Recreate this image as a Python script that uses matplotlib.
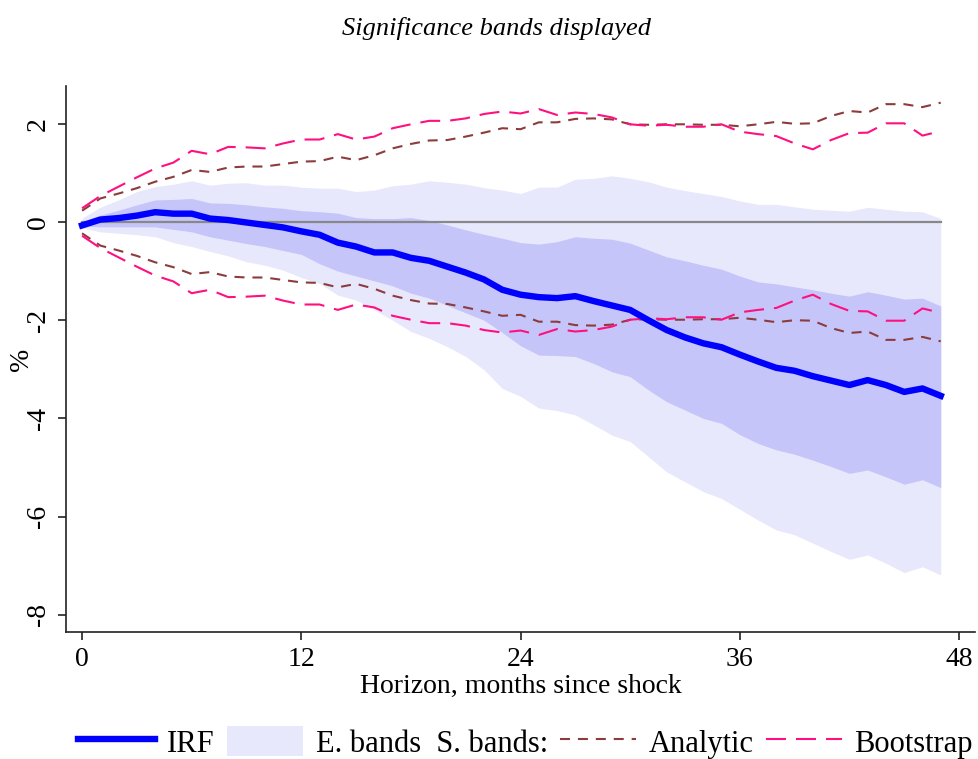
import numpy as np
import matplotlib.pyplot as plt
from matplotlib.lines import Line2D
from matplotlib.patches import Patch

# horizon, months since shock
horizon = list(range(48))

# impulse response (%)
irf = [-0.07, 0.05, 0.08, 0.13, 0.20, 0.17, 0.17, 0.07, 0.04, -0.01,
       -0.06, -0.11, -0.19, -0.26, -0.42, -0.50, -0.62, -0.62, -0.73, -0.79,
       -0.91, -1.03, -1.17, -1.38, -1.48, -1.53, -1.55, -1.51, -1.61, -1.70,
       -1.79, -2.00, -2.20, -2.35, -2.47, -2.55, -2.70, -2.84, -2.97, -3.03,
       -3.14, -3.23, -3.32, -3.22, -3.32, -3.46, -3.39, -3.54]

# error bands: outer (light) and inner (darker)
outer_hi = [0.08, 0.30, 0.45, 0.62, 0.72, 0.77, 0.84, 0.75, 0.79, 0.80,
            0.75, 0.75, 0.71, 0.69, 0.69, 0.62, 0.65, 0.74, 0.77, 0.84,
            0.81, 0.77, 0.70, 0.65, 0.58, 0.71, 0.71, 0.87, 0.89, 0.94,
            0.89, 0.82, 0.71, 0.64, 0.58, 0.52, 0.43, 0.36, 0.36, 0.31,
            0.26, 0.24, 0.22, 0.30, 0.26, 0.22, 0.21, 0.07]
outer_lo = [-0.12, -0.20, -0.23, -0.26, -0.30, -0.42, -0.50, -0.60, -0.69, -0.81,
            -0.88, -0.98, -1.13, -1.25, -1.49, -1.59, -1.79, -2.00, -2.23, -2.37,
            -2.54, -2.74, -3.01, -3.39, -3.55, -3.79, -3.84, -3.93, -4.13, -4.34,
            -4.47, -4.78, -5.09, -5.29, -5.49, -5.63, -5.85, -6.07, -6.27, -6.37,
            -6.54, -6.71, -6.87, -6.78, -6.95, -7.14, -7.02, -7.19]
inner_hi = [0.01, 0.14, 0.24, 0.35, 0.45, 0.46, 0.48, 0.39, 0.38, 0.35,
            0.31, 0.28, 0.23, 0.21, 0.18, 0.09, 0.07, 0.07, 0.09, 0.03,
            -0.06, -0.16, -0.25, -0.33, -0.42, -0.45, -0.40, -0.30, -0.33, -0.35,
            -0.43, -0.57, -0.71, -0.79, -0.88, -0.96, -1.10, -1.22, -1.26, -1.32,
            -1.38, -1.45, -1.51, -1.42, -1.49, -1.57, -1.55, -1.71]
inner_lo = [-0.08, -0.10, -0.10, -0.10, -0.10, -0.15, -0.20, -0.30, -0.37, -0.44,
            -0.50, -0.58, -0.66, -0.85, -1.00, -1.10, -1.20, -1.30, -1.45, -1.55,
            -1.70, -1.85, -2.00, -2.25, -2.52, -2.71, -2.72, -2.74, -2.88, -3.05,
            -3.15, -3.42, -3.66, -3.83, -4.00, -4.10, -4.33, -4.51, -4.64, -4.73,
            -4.85, -4.98, -5.12, -5.05, -5.19, -5.34, -5.25, -5.41]

# significance bands
analytic_hi = [0.23, 0.48, 0.58, 0.69, 0.82, 0.92, 1.06, 1.02, 1.11, 1.13,
               1.13, 1.18, 1.23, 1.24, 1.33, 1.26, 1.36, 1.50, 1.59, 1.66,
               1.67, 1.74, 1.82, 1.91, 1.89, 2.03, 2.03, 2.10, 2.11, 2.09,
               1.99, 1.98, 1.99, 1.99, 1.98, 1.98, 1.95, 1.99, 2.04, 2.00,
               2.01, 2.16, 2.26, 2.23, 2.40, 2.40, 2.34, 2.43]
analytic_lo = [-0.23, -0.48, -0.58, -0.69, -0.82, -0.92, -1.06, -1.02, -1.11, -1.13,
               -1.13, -1.18, -1.23, -1.24, -1.33, -1.26, -1.36, -1.50, -1.59, -1.66,
               -1.67, -1.74, -1.82, -1.91, -1.89, -2.03, -2.03, -2.10, -2.11, -2.09,
               -1.99, -1.98, -1.99, -1.99, -1.98, -1.98, -1.95, -1.99, -2.04, -2.00,
               -2.01, -2.16, -2.26, -2.23, -2.40, -2.40, -2.34, -2.43]
boot_hi = [0.28, 0.53, 0.72, 0.91, 1.09, 1.21, 1.45, 1.38, 1.53, 1.52,
           1.50, 1.60, 1.68, 1.68, 1.79, 1.68, 1.74, 1.91, 1.99, 2.06,
           2.06, 2.11, 2.20, 2.25, 2.21, 2.30, 2.18, 2.23, 2.20, 2.13,
           1.99, 1.96, 1.98, 1.94, 1.94, 1.99, 1.84, 1.79, 1.75, 1.60,
           1.48, 1.67, 1.81, 1.82, 2.01, 2.01, 1.76, 1.85]
boot_lo = [-0.28, -0.53, -0.72, -0.91, -1.09, -1.21, -1.45, -1.38, -1.53, -1.52,
           -1.50, -1.60, -1.68, -1.68, -1.79, -1.68, -1.74, -1.91, -1.99, -2.06,
           -2.06, -2.11, -2.20, -2.25, -2.21, -2.30, -2.18, -2.23, -2.20, -2.13,
           -1.99, -1.96, -1.98, -1.94, -1.94, -1.99, -1.84, -1.79, -1.75, -1.60,
           -1.48, -1.67, -1.81, -1.82, -2.01, -2.01, -1.76, -1.85]

xticks = [0, 12, 24, 36, 48]
yticks = [-8, -6, -4, -2, 0, 2]

light = '#e8e8fd'
dark = '#c5c5fa'
brown = '#8c3c3c'
pink = '#ff1080'

plt.rcParams['font.family'] = ['Liberation Serif', 'DejaVu Serif']
fs = 20

fig = plt.figure(figsize=(9.79, 7.59), dpi=100)
ax = fig.add_axes([0.0674, 0.1673, 0.9286, 0.7194])

ax.fill_between(horizon, outer_lo, outer_hi, color=light, lw=0)
ax.fill_between(horizon, inner_lo, inner_hi, color=dark, lw=0)
ax.plot(horizon, [0] * len(horizon), color='#888888', lw=1.6)
ax.plot(horizon, analytic_hi, color=brown, lw=1.5, dashes=(4.8, 3.8))
ax.plot(horizon, analytic_lo, color=brown, lw=1.5, dashes=(4.8, 3.8))
ax.plot(horizon, boot_hi, color=pink, lw=1.5, dashes=(9.6, 4.8))
ax.plot(horizon, boot_lo, color=pink, lw=1.5, dashes=(9.6, 4.8))
ax.plot(horizon, irf, color='#0000ff', lw=4.6, solid_joinstyle='round')

ax.set_xlim(-0.88, 48.88)
ax.set_ylim(-8.35, 2.77)
ax.set_xticks(xticks)
ax.set_yticks(yticks)
ax.set_yticklabels([str(t) for t in yticks], rotation=90, va='center')
ax.tick_params(labelsize=fs, length=6, width=1.2, color='#222222', pad=5)
ax.spines['top'].set_visible(False)
ax.spines['right'].set_visible(False)
for s in ['left', 'bottom']:
    ax.spines[s].set_linewidth(1.2)
    ax.spines[s].set_color('#222222')

ax.set_xlabel('Horizon, months since shock', fontsize=fs, labelpad=1)
ax.set_ylabel('%', fontsize=fs)
ax.yaxis.set_label_coords(-0.035, 0.5)
fig.text(0.507, 0.963, 'Significance bands displayed', fontsize=19,
         style='italic', ha='center', va='center')

handles = [Line2D([], [], color='#0000ff', lw=4.6),
           Patch(facecolor=light, edgecolor='none'),
           Line2D([], [], color=brown, lw=1.5, dashes=(4.8, 3.8)),
           Line2D([], [], color=pink, lw=1.5, dashes=(9.6, 4.8))]
labels = ['IRF', 'E. bands  S. bands:', 'Analytic', 'Bootstrap']
fig.legend(handles, labels, loc='center', bbox_to_anchor=(0.537, 0.022),
           ncol=4, frameon=False, fontsize=22, handlelength=2.5,
           handleheight=1.15, handletextpad=0.4, columnspacing=0.4)

plt.savefig('out.png', dpi=100)
